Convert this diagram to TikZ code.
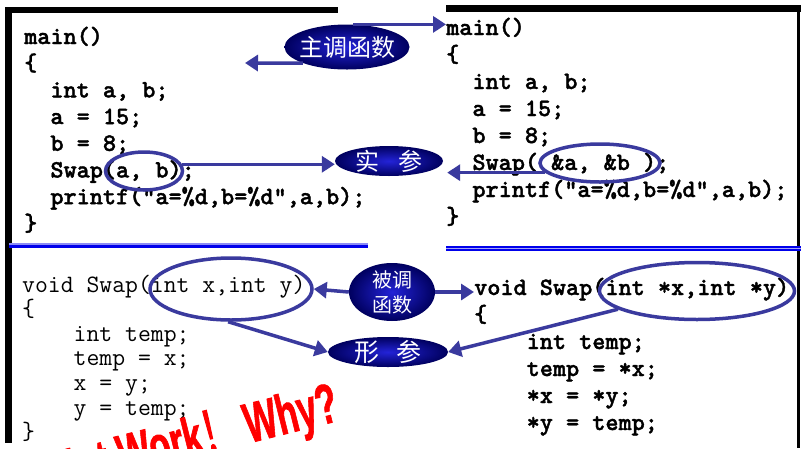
\documentclass[tikz,border=0pt]{standalone}
\usepackage{fontspec}
\newfontfamily\codefont{lmmonolt10-bold.otf}[FakeBold=1.5]
\newfontfamily\cjk{Noto Sans CJK SC}
\newfontfamily\cjkheavy{Noto Sans CJK SC}[FakeBold=3]
\newfontfamily\warnfont{Liberation Sans Bold}[FakeBold=1.5]
\usetikzlibrary{shapes.geometric,arrows.meta}

\definecolor{ringblue}{RGB}{58,58,158}
\definecolor{sepblue}{RGB}{0,0,235}
\definecolor{tagdark}{RGB}{0,0,95}
\definecolor{taglight}{RGB}{35,35,215}

\tikzset{
  code/.style={font=\codefont\fontsize{25}{26}\selectfont, inner sep=0pt, anchor=base west},
  thin code/.style={code, font=\ttfamily\fontsize{25}{26}\selectfont},
  ring/.style={ellipse, draw=ringblue, line width=3.5pt, inner sep=0pt},
  tag/.style={ellipse, inner sep=0pt, shading=radial, inner color=taglight, outer color=tagdark, text=white},
  conn/.style={draw=ringblue, line width=3.5pt, -{Triangle[length=13pt,width=16pt]}},
}

\begin{document}
\begin{tikzpicture}[x=1pt,y=-1pt]
	\clip (0,0) rectangle (801,448);
	\fill[white] (0,0) rectangle (801,448);

	% Frames and rules
	\fill (5,7) rectangle (338,13);
	\fill (5,7) rectangle (12,443);
	\fill (446,5) rectangle (801,12);
	\fill (797,5) rectangle (800,448);
	\fill[sepblue!45] (9,242.5) rectangle (368,244.5);
	\fill[sepblue] (9,244.5) rectangle (368,248);
	\fill[sepblue] (446,245.5) rectangle (801,247.5);
	\fill[sepblue!35] (446,247.5) rectangle (801,248.5);
	\fill[sepblue] (446,248.5) rectangle (801,251);

	% Code lines
	\foreach \txt [count=\i] in {{main()},{\{},{\phantom{xx}int a, b;},{\phantom{xx}a = 15;},{\phantom{xx}b = 8;},{\phantom{xx}Swap(a, b);},{\phantom{xx}printf("a=\%d,b=\%d",a,b);},{\}}}
		\node[code] (tl\i) at (24,{44+26.7*(\i-1)}) {\txt};
	\foreach \txt [count=\i] in {{main()},{\{},{\phantom{xx}int a, b;},{\phantom{xx}a = 15;},{\phantom{xx}b = 8;},{\phantom{xx}Swap( \&a, \&b );},{\phantom{xx}printf("a=\%d,b=\%d",a,b);},{\}}}
		\node[code] (tr\i) at (446,{35+27*(\i-1)}) {\txt};
	\foreach \txt [count=\i] in {{void Swap(int x,int y)},{\{},{\phantom{xxxx}int temp;},{\phantom{xxxx}temp = x;},{\phantom{xxxx}x = y;},{\phantom{xxxx}y = temp;},{\}}}
		\node[thin code] (bl\i) at (22,{292+24.6*(\i-1)}) {\txt};
	\foreach \txt [count=\i] in {{void Swap(int *x,int *y)},{\{},{\phantom{xxxx}int temp;},{\phantom{xxxx}temp = *x;},{\phantom{xxxx}*x = *y;},{\phantom{xxxx}*y = temp;}}
		\node[code] (br\i) at (474,{295+27*(\i-1)}) {\txt};

	% Rings round the arguments
	\node[ring, minimum width=77pt, minimum height=38pt] (argL) at (144,171) {};
	\node[ring, minimum width=120pt, minimum height=38pt] (argR) at (600,163) {};
	\node[ring, minimum width=162pt, minimum height=62pt] (parL) at (231,289) {};
	\node[ring, minimum width=195pt, minimum height=57pt] (parR) at (697,291) {};

	% Labels
	\node[tag, minimum width=125pt, minimum height=45pt, inner xsep=-8pt, font=\cjk\fontsize{24}{24}\selectfont] (zhu) at (347,47) {主调函数};
	\node[tag, minimum width=108pt, minimum height=30pt, inner ysep=-2pt, font=\cjk\fontsize{24}{24}\selectfont] (shi) at (389,161) {实\hspace{20pt}参};
	\node[tag, minimum width=86pt, minimum height=58pt, inner ysep=-3pt, align=center, font=\cjk\fontsize{20}{25}\selectfont] (bei) at (392,292) {被调\\函数};
	\node[tag, minimum width=120pt, minimum height=30pt, inner ysep=-2.5pt, font=\cjk\fontsize{25}{25}\selectfont] (xing) at (388,352) {形\hspace{17pt}参};
	\coordinate (callerL) at (245,63);

	% Connect the nodes
	\draw[conn] (zhu.200) -- (callerL);
	\draw[conn] (zhu.75) -- (zhu.75 -| tr1.west);
	\draw[conn] (argL.10) -- (argL.10 -| shi.west);
	\draw[conn, shorten >=4pt] (argR.190) -- (argR.190 -| shi.east);
	\draw[conn] (bei.west) -- (parL.east);
	\draw[conn] (bei.east) -- (bei.east -| br1.west);
	\draw[conn] (parL.265) -- (xing.west);
	\draw[conn] (parR.193) -- (xing.east);

	% Warning
	\node[anchor=base west, rotate=14, text=red, inner sep=0pt, font=\warnfont\fontsize{56}{56}\selectfont] (why) at (57,491) {\scalebox{0.62}[1]{Not Work{\cjkheavy ！} Why?}};
\end{tikzpicture}
\end{document}
